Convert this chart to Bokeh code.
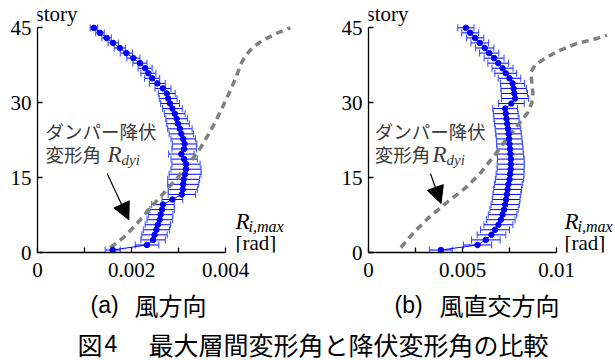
from bokeh.plotting import figure
from bokeh.models import (Range1d, FixedTicker, Label, Whisker, TeeHead,
                          ColumnDataSource, Arrow, NormalHead)
from bokeh.layouts import row, column
from bokeh.embed import file_html
from bokeh.resources import INLINE

# ---------------- data ----------------
story = list(range(1, 46))

along_mean = [0.00160, 0.00233, 0.00246, 0.00249, 0.00253, 0.00256, 0.00260, 0.00262, 0.00265, 0.00267, 0.00287,
              0.00307, 0.00309, 0.00310, 0.00311, 0.00314, 0.00316, 0.00316, 0.00312, 0.00306, 0.00312,
              0.00313, 0.00310, 0.00306, 0.00303, 0.00299, 0.00296, 0.00292, 0.00287, 0.00282, 0.00278,
              0.00275, 0.00267, 0.00255, 0.00244, 0.00236, 0.00229, 0.00218, 0.00204, 0.00189, 0.00175,
              0.00161, 0.00147, 0.00133, 0.00120]
along_err = [0.00016, 0.00025, 0.00026, 0.00027, 0.00028, 0.00027, 0.00027, 0.00026, 0.00026, 0.00024, 0.00022,
             0.00029, 0.00031, 0.00033, 0.00034, 0.00034, 0.00032, 0.00030, 0.00028, 0.00027, 0.00026,
             0.00026, 0.00026, 0.00026, 0.00026, 0.00024, 0.00023, 0.00022, 0.00021, 0.00020, 0.00019,
             0.00018, 0.00017, 0.00017, 0.00016, 0.00016, 0.00015, 0.00015, 0.00014, 0.00013, 0.00012,
             0.00011, 0.00010, 0.00009, 0.00008]

across_mean = [0.00385, 0.00580, 0.00624, 0.00654, 0.00673, 0.00691, 0.00704, 0.00713, 0.00721, 0.00727, 0.00732,
               0.00736, 0.00740, 0.00744, 0.00750, 0.00753, 0.00756, 0.00757, 0.00757, 0.00755, 0.00753,
               0.00750, 0.00748, 0.00745, 0.00742, 0.00738, 0.00734, 0.00730, 0.00727, 0.00760, 0.00780,
               0.00776, 0.00772, 0.00766, 0.00750, 0.00730, 0.00713, 0.00690, 0.00668, 0.00642, 0.00618,
               0.00592, 0.00567, 0.00541, 0.00518]
across_err = [0.00060, 0.00075, 0.00076, 0.00076, 0.00077, 0.00077, 0.00076, 0.00076, 0.00075, 0.00075, 0.00074,
              0.00074, 0.00074, 0.00074, 0.00075, 0.00074, 0.00072, 0.00072, 0.00071, 0.00070, 0.00069,
              0.00069, 0.00068, 0.00068, 0.00068, 0.00067, 0.00067, 0.00066, 0.00066, 0.00068, 0.00072,
              0.00070, 0.00068, 0.00064, 0.00060, 0.00058, 0.00056, 0.00055, 0.00053, 0.00051, 0.00049,
              0.00047, 0.00046, 0.00045, 0.00043]

along_yield_story = [1, 3, 5, 7, 9, 11, 13, 15, 17, 19, 21, 24, 27, 30, 33, 36, 38, 39.5, 41, 42.5, 44, 45]
along_yield = [0.00155, 0.00183, 0.00204, 0.00223, 0.00240, 0.00260, 0.00279, 0.00298, 0.00315, 0.00332, 0.00347,
               0.00366, 0.00383, 0.00398, 0.00413, 0.00426, 0.00434, 0.00443, 0.00457, 0.00479, 0.00511, 0.00538]

across_yield_story = [1, 4, 7, 10, 13, 16, 19, 22, 25, 28, 30, 32, 34, 36, 37.5, 39, 40.4, 41.8, 42.8, 43.5]
across_yield = [0.00172, 0.00241, 0.00321, 0.00416, 0.00518, 0.00597, 0.00661, 0.00720, 0.00784, 0.00847,
                0.00869, 0.00874, 0.00869, 0.00863, 0.00885, 0.00943, 0.01012, 0.01103, 0.01209, 0.01268]

along_ticks = [0, 0.001, 0.002, 0.003, 0.004]
along_tick_labels = ["0", "", "0.002", "", "0.004"]
across_ticks = [0, 0.0025, 0.005, 0.0075, 0.01]
across_tick_labels = ["0", "", "0.005", "", "0.01"]
story_ticks = [0, 15, 30, 45]

caption_a = ("(a)", "風方向")
caption_b = ("(b)", "風直交方向")
caption_fig = ("図", "4", "最大層間変形角と降伏変形角の比較")

# ---------------- layout constants (reference pixel coordinates) ----------------
PX_STORY = 4.993
FRAME_BOTTOM_REF = 252
BORDER_BOTTOM = 36
PANEL_H = FRAME_BOTTOM_REF + BORDER_BOTTOM
Y_END = FRAME_BOTTOM_REF / PX_STORY
SERIF = "Liberation Serif"
JP = "Noto Sans CJK JP"
SANS = "Liberation Sans"
BLUE = "#0000ff"
ANN = "#3a3a3a"


def make_panel(mean, err, ys, yv, ticks, tlabels, kx, width, left_border, ann):
    x0_ref = ann["x0"]
    xr_end = (width - left_border) / kx
    p = figure(width=width, height=PANEL_H, x_range=Range1d(0, xr_end), y_range=Range1d(0, Y_END),
               output_backend="svg", toolbar_location=None,
               min_border_left=left_border, min_border_right=0, min_border_top=0,
               min_border_bottom=BORDER_BOTTOM)
    p.grid.visible = False
    p.outline_line_color = None
    p.background_fill_color = "white"

    def X(px):
        return (px - x0_ref) / kx

    def Y(py):
        return (FRAME_BOTTOM_REF - py) / PX_STORY

    # yield drift line
    p.line(yv, ys, line_color="#808080", line_width=3.5, line_dash="7 5")

    ypos = [0.5 + (s - 1) * 44.5 / 44 for s in story]
    src = ColumnDataSource(dict(
        y=ypos, x=mean,
        lo=[m - e for m, e in zip(mean, err)],
        hi=[m + e for m, e in zip(mean, err)]))
    w = Whisker(source=src, base="y", lower="lo", upper="hi", dimension="width",
                line_color=BLUE, line_width=1,
                upper_head=TeeHead(size=7, line_color="#3048ff", line_width=1),
                lower_head=TeeHead(size=7, line_color="#3048ff", line_width=1))
    p.add_layout(w)
    p.line("x", "y", source=src, line_color=BLUE, line_width=1.0)
    p.scatter("x", "y", source=src, size=5.5, fill_color=BLUE, line_color=BLUE)

    # axes
    xa = p.xaxis[0]
    xa.ticker = FixedTicker(ticks=ticks)
    xa.major_label_overrides = {t: l for t, l in zip(ticks, tlabels)}
    xa.bounds = (ticks[0], ticks[-1])
    ya = p.yaxis[0]
    ya.ticker = FixedTicker(ticks=story_ticks)
    ya.bounds = (0, 45)
    for a in (xa, ya):
        a.major_tick_in = 5
        a.major_tick_out = 0
        a.minor_tick_in = 0
        a.minor_tick_out = 0
        a.axis_line_width = 1.3
        a.major_tick_line_width = 1.3
        a.axis_line_color = "black"
        a.major_tick_line_color = "black"
        a.major_label_text_font = SERIF
        a.major_label_text_font_size = "21px"
        a.major_label_text_color = "black"
    xa.major_label_standoff = 10
    ya.major_label_standoff = 6

    def lab(px, py, text, font, size, color="black", style="normal"):
        p.add_layout(Label(x=X(px), y=Y(py), text=text, text_font=font, text_font_size=size,
                           text_color=color, text_font_style=style, text_baseline="middle",
                           text_align="left"))

    lab(x0_ref - 2, 13.5, "story", SERIF, "21px")
    lab(ann["jx"], 130, "ダンパー降伏", JP, "18.5px", ANN)
    lab(ann["jx"], 153, "変形角", JP, "18.5px", ANN)
    lab(ann["rx"], 153.5, "R", SERIF, "23px", ANN, "italic")
    lab(ann["rx"] + 14, 159.5, "dyi", SERIF, "15px", ANN, "italic")
    lab(ann["ux"], 220.5, "R", SERIF, "23px", "black", "italic")
    lab(ann["ux"] + 13, 225.5, "i,max", SERIF, "16px", "black", "italic")
    lab(ann["ux"], 242, "[rad]", SERIF, "21px")

    (ax0, ay0), (ax1, ay1) = ann["arrow"]
    p.add_layout(Arrow(end=NormalHead(size=17, fill_color="black", line_color="black", line_width=1),
                       x_start=X(ax0), y_start=Y(ay0), x_end=X(ax1), y_end=Y(ay1),
                       line_color="black", line_width=1.2))
    return p


p1 = make_panel(along_mean, along_err, along_yield_story, along_yield, along_ticks, along_tick_labels,
                47000.0, 308, 37,
                dict(x0=37, jx=45, rx=107, ux=235, arrow=((106.7, 173.3), (128.3, 219.3))))
p2 = make_panel(across_mean, across_err, across_yield_story, across_yield, across_ticks, across_tick_labels,
                18800.0, 307, 60,
                dict(x0=368, jx=374.3, rx=432, ux=564, arrow=((430, 173.3), (440.5, 203))))

# caption figure (data coords = reference pixels)
CAP_H = 360 - PANEL_H
cap = figure(width=615, height=CAP_H, x_range=Range1d(0, 615), y_range=Range1d(360, PANEL_H),
             output_backend="svg", toolbar_location=None, x_axis_type=None, y_axis_type=None,
             min_border_left=0, min_border_right=0, min_border_top=0, min_border_bottom=0)
cap.grid.visible = False
cap.outline_line_color = None


def clab(x, y, text, font, size):
    cap.add_layout(Label(x=x, y=y, text=text, text_font=font, text_font_size=size, text_color="black",
                         text_baseline="middle", text_align="left"))


clab(90, 304, caption_a[0], SANS, "23px")
clab(134, 304, caption_a[1], JP, "24px")
clab(394, 304, caption_b[0], SANS, "23px")
clab(439, 304, caption_b[1], JP, "24px")
clab(77, 343, caption_fig[0], JP, "25px")
clab(104, 343, caption_fig[1], SANS, "23px")
clab(148, 343, caption_fig[2], JP, "25px")

layout = column(row(p1, p2), cap)
open("out.html", "w").write(file_html(layout, INLINE))
